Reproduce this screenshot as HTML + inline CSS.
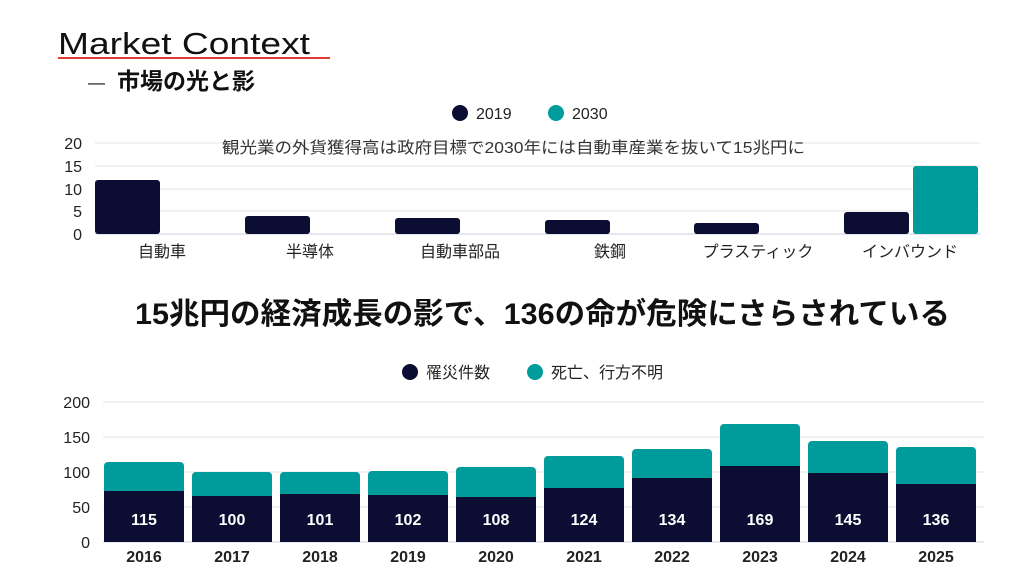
<!DOCTYPE html><html><head><meta charset="utf-8"><style>
body{margin:0;width:1024px;height:576px;background:#fff;overflow:hidden;font-family:"Liberation Sans","Noto Sans CJK JP",sans-serif;}
</style></head><body>
<svg width="1024" height="576" xmlns="http://www.w3.org/2000/svg" font-family="Liberation Sans, Noto Sans CJK JP, sans-serif">
<text x="58" y="54" font-size="31" fill="#111" textLength="252" lengthAdjust="spacingAndGlyphs">Market Context</text>
<rect x="58" y="57" width="272" height="2" fill="#e53935"/>
<text x="88" y="88" font-size="17" fill="#111">—</text>
<text x="117" y="89" font-size="23" font-weight="bold" fill="#111">市場の光と影</text>
<circle cx="460" cy="113" r="8" fill="#0b0d33"/><text x="476" y="119" font-size="16" fill="#222">2019</text>
<circle cx="556" cy="113" r="8" fill="#009b9b"/><text x="572" y="119" font-size="16" fill="#222">2030</text>
<g stroke="#e6e6e6" stroke-width="1">
<line x1="95" x2="980" y1="143" y2="143"/><line x1="95" x2="980" y1="166" y2="166"/><line x1="95" x2="980" y1="189" y2="189"/><line x1="95" x2="980" y1="211" y2="211"/></g>
<line x1="95" x2="980" y1="234" y2="234" stroke="#ccd"/>
<g font-size="16" fill="#222" text-anchor="end"><text x="82" y="149">20</text><text x="82" y="172">15</text><text x="82" y="195">10</text><text x="82" y="217">5</text><text x="82" y="240">0</text></g>
<text x="222" y="153" font-size="16" fill="#333" textLength="583" lengthAdjust="spacingAndGlyphs">観光業の外貨獲得高は政府目標で2030年には自動車産業を抜いて15兆円に</text>
<g fill="#0b0d33">
<rect x="95" y="180" width="65" height="54" rx="3"/><rect x="245" y="216" width="65" height="18" rx="3"/><rect x="395" y="218" width="65" height="16" rx="3"/><rect x="545" y="220" width="65" height="14" rx="3"/><rect x="694" y="223" width="65" height="11" rx="3"/><rect x="844" y="212" width="65" height="22" rx="3"/></g>
<rect x="913" y="166" width="65" height="68" rx="3" fill="#009b9b"/>
<g font-size="16" fill="#222" text-anchor="middle"><text x="162" y="257">自動車</text><text x="310" y="257">半導体</text><text x="460" y="257">自動車部品</text><text x="610" y="257">鉄鋼</text><text x="758" y="257">プラスティック</text><text x="910" y="257">インバウンド</text></g>
<text x="135" y="324" font-size="30" font-weight="bold" fill="#111" textLength="815" lengthAdjust="spacingAndGlyphs">15兆円の経済成長の影で、136の命が危険にさらされている</text>
<circle cx="410" cy="372" r="8" fill="#0b0d33"/><text x="426" y="378" font-size="16" fill="#222">罹災件数</text>
<circle cx="535" cy="372" r="8" fill="#009b9b"/><text x="551" y="378" font-size="16" fill="#222">死亡、行方不明</text>
<g stroke="#e6e6e6"><line x1="103" x2="984" y1="402" y2="402"/><line x1="103" x2="984" y1="437" y2="437"/><line x1="103" x2="984" y1="472" y2="472"/><line x1="103" x2="984" y1="507" y2="507"/></g>
<line x1="103" x2="984" y1="542" y2="542" stroke="#ccd"/>
<g font-size="16" fill="#222" text-anchor="end"><text x="90" y="408">200</text><text x="90" y="443">150</text><text x="90" y="478">100</text><text x="90" y="513">50</text><text x="90" y="548">0</text></g>
<g>
<rect x="104" y="462" width="80" height="80" rx="4" fill="#009b9b"/><rect x="104" y="491" width="80" height="51" fill="#0b0d33"/>
<rect x="192" y="472" width="80" height="70" rx="4" fill="#009b9b"/><rect x="192" y="496" width="80" height="46" fill="#0b0d33"/>
<rect x="280" y="472" width="80" height="70" rx="4" fill="#009b9b"/><rect x="280" y="494" width="80" height="48" fill="#0b0d33"/>
<rect x="368" y="471" width="80" height="71" rx="4" fill="#009b9b"/><rect x="368" y="495" width="80" height="47" fill="#0b0d33"/>
<rect x="456" y="467" width="80" height="75" rx="4" fill="#009b9b"/><rect x="456" y="497" width="80" height="45" fill="#0b0d33"/>
<rect x="544" y="456" width="80" height="86" rx="4" fill="#009b9b"/><rect x="544" y="488" width="80" height="54" fill="#0b0d33"/>
<rect x="632" y="449" width="80" height="93" rx="4" fill="#009b9b"/><rect x="632" y="478" width="80" height="64" fill="#0b0d33"/>
<rect x="720" y="424" width="80" height="118" rx="4" fill="#009b9b"/><rect x="720" y="466" width="80" height="76" fill="#0b0d33"/>
<rect x="808" y="441" width="80" height="101" rx="4" fill="#009b9b"/><rect x="808" y="473" width="80" height="69" fill="#0b0d33"/>
<rect x="896" y="447" width="80" height="95" rx="4" fill="#009b9b"/><rect x="896" y="484" width="80" height="58" fill="#0b0d33"/>
</g>
<g font-size="16" font-weight="bold" fill="#fff" text-anchor="middle">
<text x="144" y="525">115</text><text x="232" y="525">100</text><text x="320" y="525">101</text><text x="408" y="525">102</text><text x="496" y="525">108</text><text x="584" y="525">124</text><text x="672" y="525">134</text><text x="760" y="525">169</text><text x="848" y="525">145</text><text x="936" y="525">136</text></g>
<g font-size="16" font-weight="bold" fill="#222" text-anchor="middle">
<text x="144" y="562">2016</text><text x="232" y="562">2017</text><text x="320" y="562">2018</text><text x="408" y="562">2019</text><text x="496" y="562">2020</text><text x="584" y="562">2021</text><text x="672" y="562">2022</text><text x="760" y="562">2023</text><text x="848" y="562">2024</text><text x="936" y="562">2025</text></g>
</svg>
</body></html>
